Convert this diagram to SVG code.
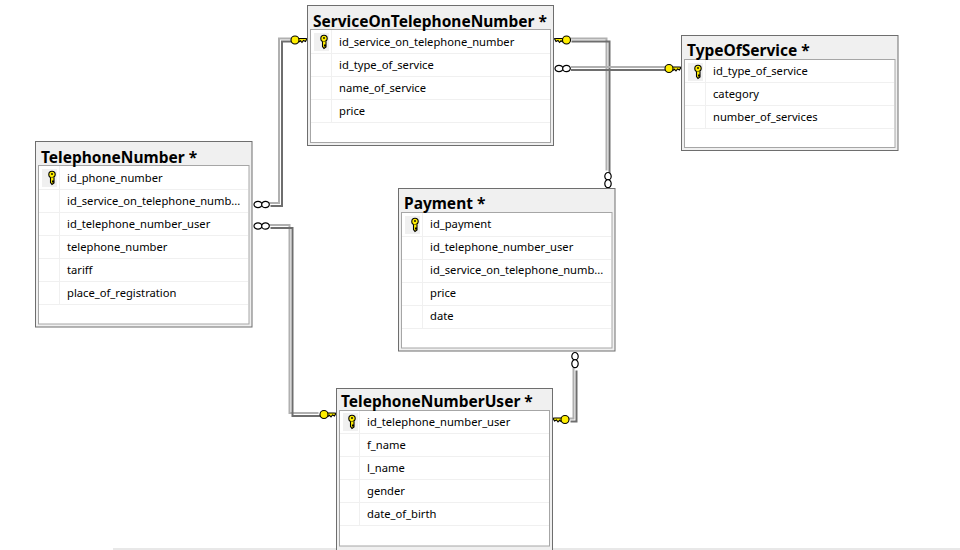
<svg xmlns="http://www.w3.org/2000/svg" xmlns:xlink="http://www.w3.org/1999/xlink" width="960" height="550" viewBox="0 0 960 550">
<style>
text{font-family:"Noto Sans","Open Sans","DejaVu Sans",sans-serif;fill:#000}
.title{font-size:15.5px;font-weight:700}
.row{font-size:11.2px}
.outer{fill:#f0f0f0;stroke:#6e6e6e;stroke-width:1}
.inner{fill:#fff;stroke:#a6a6a6;stroke-width:1}
.grid{stroke:#f0f0f0;stroke-width:1;fill:none}
.keybg{fill:#f0f0f0}
.dk{fill:none;stroke:#6e6e6e;stroke-width:2}
.lt{fill:none;stroke:#b0b0b0;stroke-width:2}
.wh{fill:none;stroke:#fff;stroke-width:1}
.crow{fill:#fff;stroke:#000;stroke-width:1.200}
.ky{fill:#ffee00;stroke:#000;stroke-width:1.100}
</style>
<defs>
<g id="rowkey">
<circle cx="0" cy="-3.500" r="3.200" class="ky"/>
<path d="M-1.500 -0.500V4.500L0 6.500L2 5V4H0.500V3H2V-0.500" class="ky"/>
<circle cx="0" cy="-4" r="0.900" fill="#000"/>
</g>
<g id="linkkey">
<path d="M0 -1.200L1.500 1.500L3.500 0.500L5 2.500L6.500 0.800L8 1.800L9 1.500V-1.500H2Z" class="ky"/>
<circle cx="12" cy="0" r="4" class="ky"/>
</g>
<g id="crowh"><ellipse cx="4" cy="0" rx="4" ry="3.200" class="crow"/><ellipse cx="11.500" cy="0" rx="3.800" ry="3.200" class="crow"/></g>
<g id="crowv"><ellipse cx="0" cy="3.800" rx="3.200" ry="3.800" class="crow"/><ellipse cx="0" cy="11.200" rx="3.200" ry="4" class="crow"/></g>
</defs>

<g id="connectors">
<path d="M269 204.500H280.500V40H293" class="lt" transform="translate(-1.500,-1.500)"/>
<path d="M269 204.500H280.500V40H293" class="dk" transform="translate(1.500,1.500)"/>
<use xlink:href="#crowh" href="#crowh" x="254" y="204.500"/>
<use xlink:href="#linkkey" href="#linkkey" transform="translate(307,40) scale(-1,1)"/>

<path d="M269 226.500H291V414.500H320" class="lt" transform="translate(-1.500,-1.500)"/>
<path d="M269 226.500H291V414.500H320" class="dk" transform="translate(1.500,1.500)"/>
<use xlink:href="#crowh" href="#crowh" x="254" y="226"/>
<use xlink:href="#linkkey" href="#linkkey" transform="translate(336,414.500) scale(-1,1)"/>

<path d="M570 40H608V172" class="lt" transform="translate(-1.500,-1.500)"/>
<path d="M570 40H608V172" class="dk" transform="translate(1.500,1.500)"/>
<use xlink:href="#linkkey" href="#linkkey" x="554.500" y="40"/>
<use xlink:href="#crowv" href="#crowv" x="608" y="172.500"/>

<path d="M571 68.500H666" class="lt" transform="translate(0,-1.500)"/>
<path d="M571 68.500H666" class="dk" transform="translate(0,1.500)"/>
<use xlink:href="#crowh" href="#crowh" x="555" y="68.500"/>
<use xlink:href="#linkkey" href="#linkkey" transform="translate(681,68.500) scale(-1,1)"/>

<path d="M575 369V420H569" class="lt" transform="translate(-1.500,-1.500)"/>
<path d="M575 369V420H569" class="dk" transform="translate(1.500,1.500)"/>
<use xlink:href="#crowv" href="#crowv" x="575" y="352.500"/>
<use xlink:href="#linkkey" href="#linkkey" x="553" y="419.500"/>
</g>

<g id="TelephoneNumber">
<rect x="35.500" y="141.500" width="216.500" height="185.500" class="outer"/>
<rect x="38.500" y="165.500" width="210.500" height="158.500" class="inner"/>
<path d="M39 189.500H248M39 212.500H248M39 235.500H248M39 258.500H248M39 281.500H248M39 304.500H248M59.500 166V304" class="grid"/>
<rect x="42" y="169" width="15" height="18" class="keybg"/>
<use xlink:href="#rowkey" href="#rowkey" x="52" y="178"/>
<text x="41" y="162.500" class="title">TelephoneNumber *</text>
<text x="67" y="182" class="row">id_phone_number</text>
<text x="67" y="205" class="row">id_service_on_telephone_numb...</text>
<text x="67" y="228" class="row">id_telephone_number_user</text>
<text x="67" y="251" class="row">telephone_number</text>
<text x="67" y="274" class="row">tariff</text>
<text x="67" y="297" class="row">place_of_registration</text>
</g>

<g id="ServiceOnTelephoneNumber">
<rect x="307.500" y="5.500" width="246" height="140" class="outer"/>
<rect x="310.500" y="29.500" width="240" height="113" class="inner"/>
<path d="M311 53.500H550M311 76.500H550M311 99.500H550M311 122.500H550M331.500 30V122" class="grid"/>
<rect x="314" y="33" width="15" height="18" class="keybg"/>
<use xlink:href="#rowkey" href="#rowkey" x="324" y="42"/>
<text x="313" y="26.500" class="title">ServiceOnTelephoneNumber *</text>
<text x="339" y="46" class="row">id_service_on_telephone_number</text>
<text x="339" y="69" class="row">id_type_of_service</text>
<text x="339" y="92" class="row">name_of_service</text>
<text x="339" y="115" class="row">price</text>
</g>

<g id="TypeOfService">
<rect x="681.500" y="35.500" width="216.500" height="115" class="outer"/>
<rect x="684.500" y="59.500" width="210.500" height="88" class="inner"/>
<path d="M685 82.500H894M685 105.500H894M685 128.500H894M705.500 60V128" class="grid"/>
<rect x="688" y="63" width="15" height="18" class="keybg"/>
<use xlink:href="#rowkey" href="#rowkey" x="698" y="72"/>
<text x="687" y="55.500" class="title">TypeOfService *</text>
<text x="713" y="75" class="row">id_type_of_service</text>
<text x="713" y="98" class="row">category</text>
<text x="713" y="121" class="row">number_of_services</text>
</g>

<g id="Payment">
<rect x="398.500" y="188.500" width="216.500" height="162.500" class="outer"/>
<rect x="401.500" y="212.500" width="210.500" height="135.500" class="inner"/>
<path d="M402 236.500H611M402 259.500H611M402 282.500H611M402 305.500H611M402 328.500H611M422.500 213V328" class="grid"/>
<rect x="405" y="216" width="15" height="18" class="keybg"/>
<use xlink:href="#rowkey" href="#rowkey" x="415" y="225"/>
<text x="404" y="208.500" class="title">Payment *</text>
<text x="430" y="228" class="row">id_payment</text>
<text x="430" y="251" class="row">id_telephone_number_user</text>
<text x="430" y="274" class="row">id_service_on_telephone_numb...</text>
<text x="430" y="297" class="row">price</text>
<text x="430" y="320" class="row">date</text>
</g>

<g id="TelephoneNumberUser">
<rect x="336.500" y="388.500" width="216" height="170" class="outer"/>
<rect x="339.500" y="410.500" width="210" height="135.500" class="inner"/>
<path d="M340 433.500H549M340 456.500H549M340 479.500H549M340 502.500H549M340 525.500H549M359.500 411V525" class="grid"/>
<rect x="343" y="413" width="15" height="18" class="keybg"/>
<use xlink:href="#rowkey" href="#rowkey" x="352" y="422"/>
<text x="341" y="406.500" class="title">TelephoneNumberUser *</text>
<text x="367" y="426" class="row">id_telephone_number_user</text>
<text x="367" y="449" class="row">f_name</text>
<text x="367" y="472" class="row">l_name</text>
<text x="367" y="495" class="row">gender</text>
<text x="367" y="518" class="row">date_of_birth</text>
</g>

<path d="M113 549H336M553 549H960" stroke="#e8e8e8" stroke-width="2" fill="none"/>
</svg>
